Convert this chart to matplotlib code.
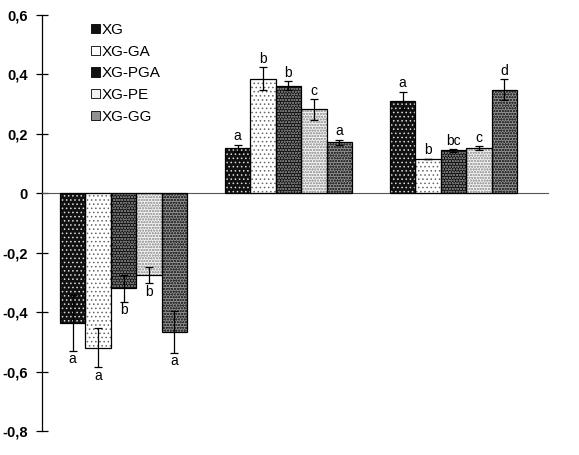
import matplotlib
matplotlib.use("Agg")
import matplotlib.pyplot as plt
import numpy as np
from matplotlib.patches import Patch

plt.rcParams['font.family'] = ['Liberation Sans', 'DejaVu Sans']
plt.rcParams['hatch.linewidth'] = 0.6

series = ["XG", "XG-GA", "XG-PGA", "XG-PE", "XG-GG"]
groups = [0, 1, 2]
values = {
    "XG":     [-0.436, 0.151, 0.312],
    "XG-GA":  [-0.520, 0.386, 0.117],
    "XG-PGA": [-0.320, 0.362, 0.144],
    "XG-PE":  [-0.275, 0.282, 0.151],
    "XG-GG":  [-0.466, 0.171, 0.349],
}
errors = {
    "XG":     [0.094, 0.012, 0.030],
    "XG-GA":  [0.065, 0.038, 0.000],
    "XG-PGA": [0.045, 0.015, 0.004],
    "XG-PE":  [0.028, 0.035, 0.007],
    "XG-GG":  [0.070, 0.010, 0.035],
}
letters = {
    "XG":     ["a", "a", "a"],
    "XG-GA":  ["a", "b", "b"],
    "XG-PGA": ["b", "b", "bc"],
    "XG-PE":  ["b", "c", "c"],
    "XG-GG":  ["a", "a", "d"],
}
yticks = [-0.8, -0.6, -0.4, -0.2, 0, 0.2, 0.4, 0.6]
ytick_labels = ["-0,8", "-0,6", "-0,4", "-0,2", "0", "0,2", "0,4", "0,6"]

styles = {
    "XG":     dict(face="#111111", hatchc="#dddddd", hatch="...."),
    "XG-GA":  dict(face="#ffffff", hatchc="#666666", hatch="...."),
    "XG-PGA": dict(face="#111111", hatchc="#707070", hatch="oooooo"),
    "XG-PE":  dict(face="#f2f2f2", hatchc="#aaaaaa", hatch="oooooo"),
    "XG-GG":  dict(face="#909090", hatchc="#333333", hatch="oooooo"),
}

fig = plt.figure(figsize=(5.79, 4.55), dpi=100)
ax = fig.add_axes([42/579, 1-431/455, (548-42)/579, (431-15)/455])

width = 0.154
x = np.array(groups, dtype=float)
for i, s in enumerate(series):
    pos = x + (i - 2) * width
    st = styles[s]
    ax.bar(pos, values[s], width, color=st["face"], edgecolor=st["hatchc"],
           hatch=st["hatch"], linewidth=0, zorder=2)
    ax.bar(pos, values[s], width, facecolor="none", edgecolor="black",
           linewidth=0.9, zorder=3)
    ax.errorbar(pos, values[s], yerr=errors[s], fmt="none", ecolor="black",
                elinewidth=0.9, capsize=3, capthick=0.9, zorder=4)
    for p, v, e, l in zip(pos, values[s], errors[s], letters[s]):
        if v < 0:
            ax.text(p, v - e - 0.005, l, ha="center", va="top", fontsize=10, zorder=5)
        else:
            ax.text(p, v + e + 0.005, l, ha="center", va="bottom", fontsize=10, zorder=5)

ax.set_xlim(-0.494, 2.573)
ax.set_ylim(-0.8, 0.6)
ax.set_yticks(yticks)
ax.set_yticklabels(ytick_labels, fontweight="bold", fontsize=10.5)
ax.tick_params(axis="y", direction="inout", length=8, width=0.9, pad=6)
ax.set_xticks([])
ax.spines["top"].set_visible(False)
ax.spines["right"].set_visible(False)
ax.spines["bottom"].set_position(("data", 0))
ax.spines["bottom"].set_color("#555555")
ax.spines["left"].set_linewidth(0.9)

handles = [Patch(facecolor=styles[s]["face"], edgecolor="black", linewidth=0.6)
           for s in series]
leg = ax.legend(handles, series, loc="upper left", bbox_to_anchor=(0.085, 0.995),
                frameon=False, fontsize=11, handlelength=0.55, handleheight=0.55,
                handletextpad=0.15, labelspacing=0.5, borderaxespad=0)

fig.savefig("out.png", dpi=100)
